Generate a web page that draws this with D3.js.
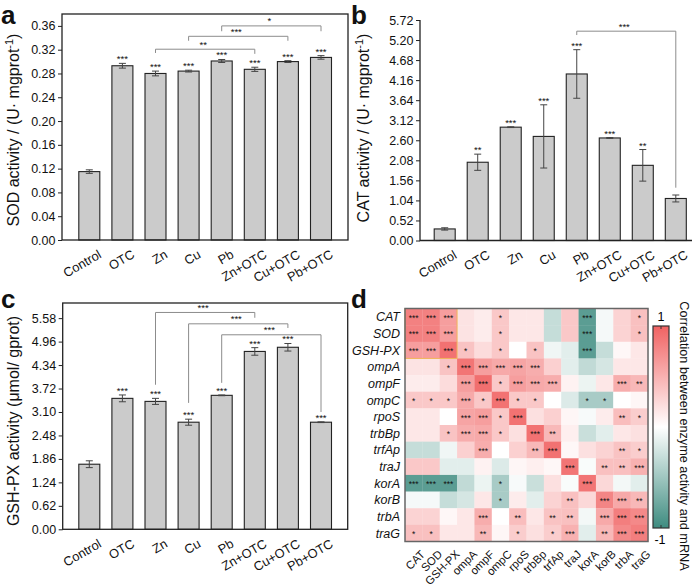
<!DOCTYPE html>
<html><head><meta charset="utf-8">
<script src="https://cdn.jsdelivr.net/npm/d3@7/dist/d3.min.js"></script>
<style>body{margin:0;background:#fff}svg{display:block;font-family:"Liberation Sans",Arial,sans-serif}</style>
</head><body><svg id="chart" width="700" height="586"></svg>
<script>
// ---------- data ----------
const categories = ["Control","OTC","Zn","Cu","Pb","Zn+OTC","Cu+OTC","Pb+OTC"];

const sodMean = [0.115,0.293,0.280,0.284,0.301,0.287,0.300,0.307];
const sodErr  = [0.003,0.004,0.004,0.0015,0.0025,0.0035,0.0015,0.003];
const sodSig  = ["","***","***","***","***","***","***","***"];
const sodTicks = [0,0.04,0.08,0.12,0.16,0.20,0.24,0.28,0.32,0.36];
const sodTickLabels = ["0.00","0.04","0.08","0.12","0.16","0.20","0.24","0.28","0.32","0.36"];
// [from, to, lineY, leftEndY, rightEndY, label]
const sodBrackets = [
  ["Zn","Zn+OTC",0.3208,0.3145,0.313,"**"],
  ["Cu","Cu+OTC",0.3425,0.335,0.335,"***"],
  ["Pb","Pb+OTC",0.3600,0.351,0.351,"*"]
];

const catMean = [0.30,2.03,2.94,2.70,4.32,2.66,1.95,1.09];
const catErr  = [0.03,0.21,0.01,0.82,0.63,0.01,0.41,0.09];
const catSig  = ["","**","***","***","***","***","**",""];
const catTicks = [0,0.52,1.04,1.56,2.08,2.60,3.12,3.64,4.16,4.68,5.20,5.72];
const catTickLabels = ["0.00","0.52","1.04","1.56","2.08","2.60","3.12","3.64","4.16","4.68","5.20","5.72"];
const catBrackets = [
  ["Pb","Pb+OTC",5.43,5.33,1.37,"***"]
];

const gshMean = [1.72,3.46,3.38,2.83,3.54,4.70,4.81,2.83];
const gshErr  = [0.09,0.09,0.08,0.08,0.01,0.10,0.10,0.01];
const gshSig  = ["","***","***","***","***","***","***","***"];
const gshTicks = [0,0.62,1.24,1.86,2.48,3.10,3.72,4.34,4.96,5.58];
const gshTickLabels = ["0.00","0.62","1.24","1.86","2.48","3.10","3.72","4.34","4.96","5.58"];
const gshBrackets = [
  ["Zn","Zn+OTC",5.73,3.82,5.59,"***"],
  ["Cu","Cu+OTC",5.43,3.34,5.32,"***"],
  ["Pb","Pb+OTC",5.14,3.87,3.10,"***"]
];

const genes = ["CAT","SOD","GSH-PX","ompA","ompF","ompC","rpoS","trbBp","trfAp","traJ","korA","korB","trbA","traG"];
const corr = [
  [ 0.80, 0.80, 0.62, 0.18, 0.12, 0.35, 0.15, 0.15,-0.30, 0.35,-0.85,-0.05, 0.28, 0.40],
  [ 0.80, 0.80, 0.62, 0.18, 0.12, 0.35, 0.15, 0.15,-0.30, 0.35,-0.85,-0.05, 0.28, 0.40],
  [ 0.62, 0.62, 0.90, 0.38, 0.22, 0.35, 0.00, 0.38,-0.08,-0.15,-0.85,-0.30, 0.05, 0.15],
  [ 0.18, 0.18, 0.38, 0.88, 0.62, 0.55, 0.58, 0.52, 0.30,-0.15,-0.32,-0.22, 0.15, 0.15],
  [ 0.12, 0.12, 0.22, 0.62, 0.92, 0.35, 0.62, 0.55, 0.52, 0.08,-0.10, 0.15, 0.52, 0.45],
  [ 0.35, 0.35, 0.35, 0.55, 0.35, 0.90, 0.35, 0.35, 0.00,-0.18,-0.45,-0.45, 0.00, 0.06],
  [ 0.15, 0.15, 0.00, 0.58, 0.62, 0.35, 0.90, 0.20, 0.30, 0.06,-0.04, 0.12, 0.42, 0.32],
  [ 0.15, 0.15, 0.38, 0.52, 0.55, 0.35, 0.20, 0.90, 0.45, 0.10,-0.28,-0.15, 0.15, 0.20],
  [-0.30,-0.30,-0.08, 0.30, 0.52, 0.00, 0.30, 0.45, 0.90, 0.05, 0.20, 0.28, 0.38, 0.32],
  [ 0.35, 0.35,-0.15,-0.15, 0.08,-0.18, 0.06, 0.10, 0.05, 0.88,-0.03, 0.40, 0.40, 0.50],
  [-0.85,-0.85,-0.85,-0.32,-0.10,-0.45,-0.04,-0.28, 0.20,-0.03, 0.88, 0.25,-0.06,-0.15],
  [-0.05,-0.05,-0.30,-0.22, 0.15,-0.45, 0.12,-0.15, 0.28, 0.40, 0.25, 0.78, 0.55, 0.45],
  [ 0.28, 0.28, 0.05, 0.15, 0.52, 0.00, 0.42, 0.15, 0.38, 0.40,-0.06, 0.55, 0.82, 0.75],
  [ 0.40, 0.40, 0.15, 0.15, 0.45, 0.06, 0.32, 0.20, 0.32, 0.50,-0.15, 0.45, 0.75, 0.82]
];
const sig = [
  ["***","***","***","","","*","","","","","***","","","*"],
  ["***","***","***","","","*","","","","","***","","","*"],
  ["***","***","***","*","","*","","*","","","***","","",""],
  ["","","*","***","***","***","***","***","","","","","",""],
  ["","","","***","***","*","***","***","***","","","","***","**"],
  ["*","*","*","***","*","***","*","*","","","*","*","",""],
  ["","","","***","***","*","***","","","","","","**","*"],
  ["","","*","***","***","*","","***","**","","","","",""],
  ["","","","","***","","","**","***","","","","**","*"],
  ["","","","","","","","","","***","","**","**","***"],
  ["***","***","***","","","*","","","","","***","","",""],
  ["","","","","","*","","","","**","","***","***","**"],
  ["","","","","***","","**","","**","**","","***","***","***"],
  ["*","*","","","**","","*","","*","***","","**","***","***"]
];
const colorStops = ["#3e8c80","#ffffff","#f06262"];

// ---------- drawing ----------
const svg = d3.select("#chart");
const FONT_TICK = 12.5, FONT_TITLE = 16;

function barPanel(o){
  const g = svg.append("g");
  const x = d3.scalePoint().domain(categories).range(o.xr);
  const y = d3.scaleLinear().domain(o.yd).range(o.yr);
  const bw = 21;
  g.selectAll("rect.bar").data(o.mean).join("rect")
    .attr("x",(d,i)=>x(categories[i])-bw/2).attr("width",bw)
    .attr("y",d=>y(d)).attr("height",d=>y(0)-y(d))
    .attr("fill","#cbcbcb").attr("stroke","#222").attr("stroke-width",1.1);
  const eb = g.selectAll("g.err").data(o.mean).join("g");
  eb.append("line").attr("x1",(d,i)=>x(categories[i])).attr("x2",(d,i)=>x(categories[i]))
    .attr("y1",(d,i)=>y(d+o.err[i])).attr("y2",(d,i)=>y(d-o.err[i])).attr("stroke","#444").attr("stroke-width",1);
  [1,-1].forEach(s=>{
    eb.append("line").attr("x1",(d,i)=>x(categories[i])-3.5).attr("x2",(d,i)=>x(categories[i])+3.5)
      .attr("y1",(d,i)=>y(d+s*o.err[i])).attr("y2",(d,i)=>y(d+s*o.err[i])).attr("stroke","#444").attr("stroke-width",1);
  });
  g.selectAll("text.sig").data(o.mean).join("text")
    .attr("x",(d,i)=>x(categories[i])).attr("y",(d,i)=>y(d+o.err[i])-1)
    .attr("text-anchor","middle").attr("font-size",9.5).attr("fill","#111")
    .text((d,i)=>o.sig[i]);
  o.brackets.forEach(b=>{
    const xa=x(b[0]), xb=x(b[1]);
    g.append("path").attr("d",`M${xa},${y(b[3])}V${y(b[2])}H${xb}V${y(b[4])}`)
      .attr("fill","none").attr("stroke","#8c8c8c").attr("stroke-width",1);
    g.append("text").attr("x",(xa+xb)/2-2).attr("y",y(b[2])-1.5).attr("text-anchor","middle")
      .attr("font-size",9.5).attr("fill","#111").text(b[5]);
  });
  const ax = g.append("g").attr("transform",`translate(${o.frame[0]},0)`)
    .call(d3.axisLeft(y).tickValues(o.ticks).tickSize(4).tickSizeOuter(0).tickPadding(2.5)
      .tickFormat((d,i)=>o.tickLabels[i]));
  ax.select(".domain").remove();
  ax.selectAll("text").attr("font-size",FONT_TICK).attr("font-family","Liberation Sans, Arial, sans-serif").attr("fill","#111");
  ax.selectAll("line").attr("stroke","#222");
  if(o.box){
    g.append("rect").attr("x",o.frame[0]).attr("y",o.frame[2]).attr("width",o.frame[1]-o.frame[0])
      .attr("height",o.frame[3]-o.frame[2]).attr("fill","none").attr("stroke","#222").attr("stroke-width",1.3);
  } else {
    g.append("path").attr("d",`M${o.frame[0]},${o.frame[2]}V${o.frame[3]}H${o.frame[1]}`)
      .attr("fill","none").attr("stroke","#222").attr("stroke-width",1.3);
  }
  g.selectAll("text.xl").data(categories).join("text")
    .attr("transform",d=>`translate(${x(d)+13},${o.frame[3]+17}) rotate(-30)`)
    .attr("text-anchor","end").attr("font-size",12.8).attr("fill","#111").text(d=>d);
  const t = g.append("text").attr("transform",`translate(${o.titlePos[0]},${o.titlePos[1]}) rotate(-90)`)
    .attr("text-anchor","middle").attr("font-size",FONT_TITLE).attr("fill","#111");
  o.title(t);
  svg.append("text").attr("x",o.letter[1]).attr("y",o.letter[2]).attr("font-size",26)
    .attr("font-weight","bold").attr("fill","#111").text(o.letter[0]);
}

barPanel({xr:[89.3,321],yd:[0,0.38],yr:[240,14],frame:[62,348,14,240],box:true,
  mean:sodMean,err:sodErr,sig:sodSig,ticks:sodTicks,tickLabels:sodTickLabels,brackets:sodBrackets,
  titlePos:[19,130],letter:["a",1,23.8],
  title:t=>{t.append("tspan").text("SOD activity / (U\u00b7 mgprot");
    t.append("tspan").attr("font-size",11).attr("dy",-6).text("-1");
    t.append("tspan").attr("dy",6).text(")");}});

barPanel({xr:[444.7,675.8],yd:[0,5.72],yr:[240.5,20],frame:[420,692,20,240.5],box:false,
  mean:catMean,err:catErr,sig:catSig,ticks:catTicks,tickLabels:catTickLabels,brackets:catBrackets,
  titlePos:[369,128],letter:["b",351,23.8],
  title:t=>{t.append("tspan").text("CAT activity / (U\u00b7 mgprot");
    t.append("tspan").attr("font-size",11).attr("dy",-6).text("-1");
    t.append("tspan").attr("dy",6).text(")");}});

barPanel({xr:[89.3,321],yd:[0,5.98],yr:[529.3,303],frame:[62.7,347.7,303,529.3],box:true,
  mean:gshMean,err:gshErr,sig:gshSig,ticks:gshTicks,tickLabels:gshTickLabels,brackets:gshBrackets,
  titlePos:[19,421],letter:["c",1,308],
  title:t=>{t.text("GSH-PX activity (\u03bcmol/ gprot)");}});

// ---------- heatmap ----------
const hx = d3.scaleBand().domain(genes).range([405,648]);
const hy = d3.scaleBand().domain(genes).range([308.5,541.5]);
const col = d3.scaleLinear().domain([-1,0,1]).range(colorStops);
const hg = svg.append("g");
const cells = [];
corr.forEach((row,i)=>row.forEach((v,j)=>cells.push({r:genes[i],c:genes[j],v,s:sig[i][j]})));
hg.selectAll("rect.cell").data(cells).join("rect")
  .attr("x",d=>hx(d.c)).attr("y",d=>hy(d.r)).attr("width",hx.bandwidth()+0.3).attr("height",hy.bandwidth()+0.3)
  .attr("fill",d=>col(d.v));
hg.selectAll("text.s").data(cells.filter(d=>d.s)).join("text")
  .attr("x",d=>hx(d.c)+hx.bandwidth()/2).attr("y",d=>hy(d.r)+hy.bandwidth()/2+4)
  .attr("text-anchor","middle").attr("font-size",8.5).attr("fill","#111").text(d=>d.s);
hg.append("rect").attr("x",405).attr("y",hy(genes[0])).attr("width",hx(genes[3])-405).attr("height",hy(genes[3])-hy(genes[0]))
  .attr("fill","none").attr("stroke","#f0b45a").attr("stroke-width",1);
hg.append("rect").attr("x",405).attr("y",308.5).attr("width",243).attr("height",233)
  .attr("fill","none").attr("stroke","#666").attr("stroke-width",1.5);
hg.selectAll("text.rl").data(genes).join("text")
  .attr("x",400).attr("y",d=>hy(d)+hy.bandwidth()/2+4.5).attr("text-anchor","end")
  .attr("font-size",FONT_TICK).attr("font-style","italic").attr("fill","#111").text(d=>d);
hg.selectAll("text.cl").data(genes).join("text")
  .attr("transform",d=>`translate(${hx(d)+hx.bandwidth()/2+12},${555}) rotate(-45)`)
  .attr("text-anchor","end").attr("font-size",11.3).attr("fill","#111").text(d=>d);
const defs = svg.append("defs");
const grad = defs.append("linearGradient").attr("id","cg").attr("x1",0).attr("x2",0).attr("y1",1).attr("y2",0);
[-1,-0.5,0,0.5,1].forEach(v=>grad.append("stop").attr("offset",(v+1)/2).attr("stop-color",col(v)));
const cb = d3.scaleLinear().domain([-1,1]).range([528,326]);
hg.append("rect").attr("x",653).attr("y",cb(1)).attr("width",16).attr("height",cb(-1)-cb(1))
  .attr("fill","url(#cg)").attr("stroke","#333").attr("stroke-width",1.2);
[1,-1].forEach(v=>{
  hg.append("line").attr("x1",661).attr("x2",661).attr("y1",cb(v)).attr("y2",cb(v)+(v>0?3:-3)).attr("stroke","#333");
});
hg.append("text").attr("x",661).attr("y",321).attr("text-anchor","middle").attr("font-size",FONT_TICK).text("1");
hg.append("text").attr("x",660).attr("y",544).attr("text-anchor","middle").attr("font-size",FONT_TICK).text("-1");
hg.append("text").attr("transform","translate(680,436) rotate(90)").attr("text-anchor","middle")
  .attr("font-size",12.7).attr("fill","#111").text("Correlation between enzyme activity and mRNA");
svg.append("text").attr("x",351).attr("y",308).attr("font-size",26).attr("font-weight","bold").attr("fill","#111").text("d");
</script></body></html>
